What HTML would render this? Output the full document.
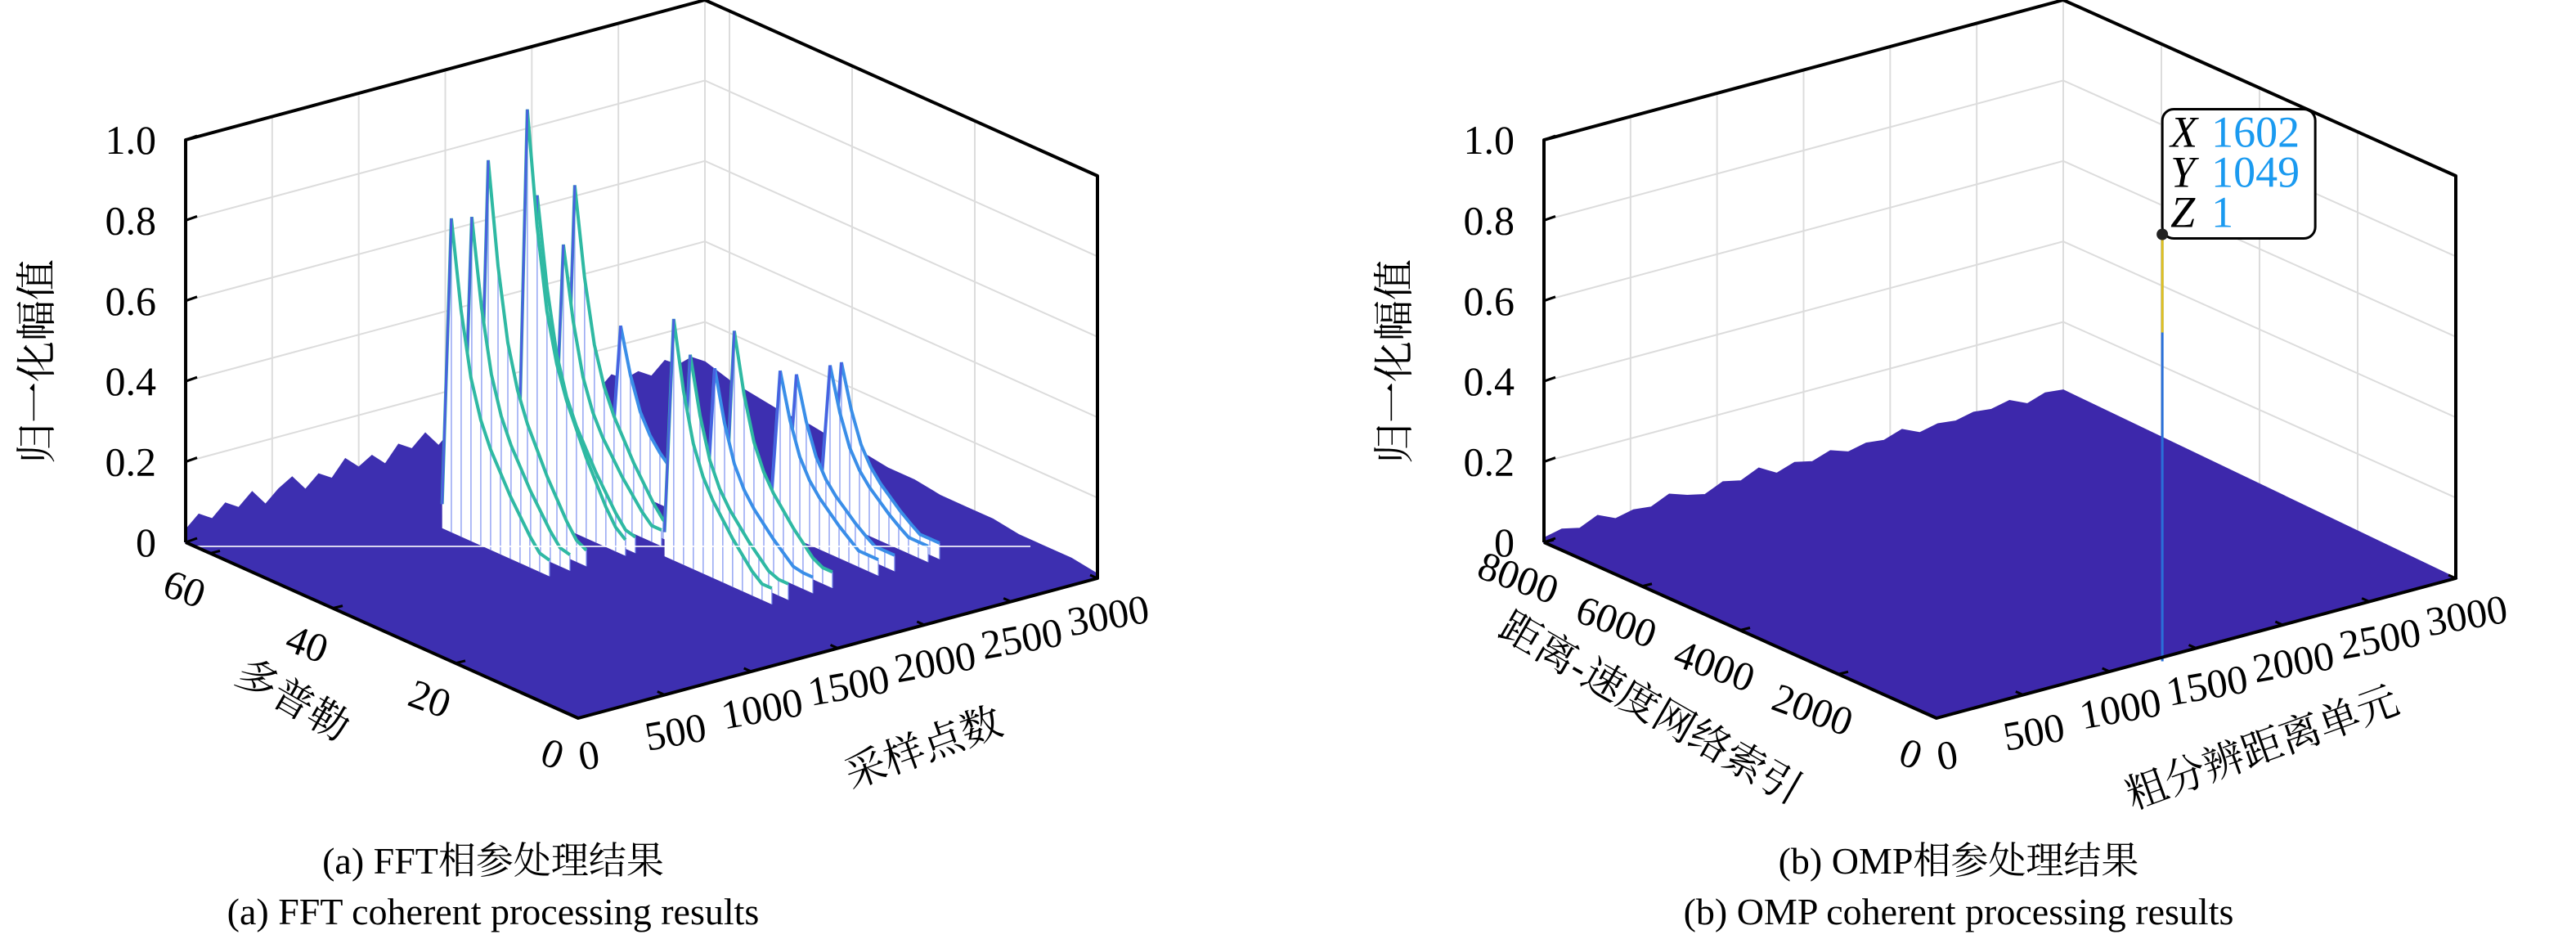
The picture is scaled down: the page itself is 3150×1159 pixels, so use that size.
<!DOCTYPE html>
<html><head><meta charset="utf-8"><style>
html,body{margin:0;padding:0;background:#fff}
svg{display:block}
text{font-family:"Liberation Serif","Noto Serif CJK SC","Noto Sans CJK SC",serif;fill:#000}
</style></head><body>
<svg id="fig" width="3150" height="1159" viewBox="0 0 3150 1159" xmlns="http://www.w3.org/2000/svg">
<g id="chartA"></g>
<g id="chartB"></g>
<text x="603" y="1068" font-size="46" text-anchor="middle">(a) FFT相参处理结果</text>
<text x="603" y="1130" font-size="46" text-anchor="middle">(a) FFT coherent processing results</text>
<text x="2395" y="1068" font-size="46" text-anchor="middle">(b) OMP相参处理结果</text>
<text x="2395" y="1130" font-size="46" text-anchor="middle">(b) OMP coherent processing results</text>
</svg>
<script>
// ---- data ----
const zTicks = [0, 0.2, 0.4, 0.6, 0.8, 1.0];
const zTickLabels = ["0", "0.2", "0.4", "0.6", "0.8", "1.0"];
const xTicksA = [0, 500, 1000, 1500, 2000, 2500, 3000];
const yTicksA = [0, 20, 40, 60];
const xTicksB = [0, 500, 1000, 1500, 2000, 2500, 3000];
const yTicksB = [0, 2000, 4000, 6000, 8000];
// FFT targets: sample index, doppler index of peak, normalized amplitude
const targetSamples = [1039, 1157, 1252, 1478, 1535, 1686, 1752, 2017, 1615, 1710, 1852, 1965, 2230, 2324, 2518, 2584];
const targetDoppler = [50, 50, 50, 50, 50, 50, 50, 50, 30, 30, 30, 30, 30, 30, 30, 30];
const targetAmps = [0.78, 0.77, 0.9, 1.0, 0.78, 0.64, 0.78, 0.4, 0.6, 0.5, 0.45, 0.53, 0.4, 0.38, 0.38, 0.38];
// relative ridge shape along doppler (offset 0 .. -N)
const ridgeProfile = [1, 0.72, 0.52, 0.4, 0.32, 0.26, 0.2, 0.15, 0.1, 0.06, 0];
// floor clutter amplitude along back edges
const noiseA = [0.03,0.06,0.04,0.07,0.05,0.08,0.04,0.07,0.09,0.05,0.08,0.06,0.1,0.07,0.09,0.06,0.1,0.08,0.11,0.07,0.1,0.09,0.12,0.08,0.11,0.09,0.12,0.1,0.13,0.09,0.12,0.1,0.13,0.11,0.12,0.1,0.13,0.11,0.12,0.1];
const noiseA2 = [0.1,0.08,0.07,0.06,0.06,0.05,0.05,0.04,0.04,0.03,0.03,0.03,0.02,0.02,0.02,0.01];
const noiseB = [0.01,0.02,0.01,0.03,0.01,0.02,0.015,0.035,0.02,0.01,0.03,0.02,0.04,0.015,0.03,0.02,0.035,0.02,0.03,0.025,0.04,0.02,0.03,0.025,0.035,0.03,0.04,0.02,0.035,0.03];
const noiseB2 = [0,0];
const ompX = [1602];
const ompY = [1049];
const ompZ = [1];

const NS = "http://www.w3.org/2000/svg";
function mk(parent, tag, attrs, txt){
  const e = document.createElementNS(NS, tag);
  for (const k in attrs) e.setAttribute(k, attrs[k]);
  if (txt !== undefined) e.textContent = txt;
  parent.appendChild(e);
  return e;
}
function makeProj(ox, xMax, yMax){
  const F = [707 + ox, 878], RX = [635, -171], LY = [-480, -215], H = 492;
  return function(s, d, z){
    return [F[0] + s / xMax * RX[0] + d / yMax * LY[0], F[1] + s / xMax * RX[1] + d / yMax * LY[1] - z * H];
  };
}
function pts(a){ return a.map(p => p[0].toFixed(1) + "," + p[1].toFixed(1)).join(" "); }

function drawBox(g, P, xMax, yMax, xTicks, yTicks){
  const grid = mk(g, "g", {stroke: "#dcdcdc", "stroke-width": 2, fill: "none"});
  
  
  zTicks.forEach(z => {
    if (z === 0) return;
    mk(grid, "polyline", {points: pts([P(0, yMax, z), P(xMax, yMax, z), P(xMax, 0, z)])});
  });
  xTicks.forEach(s => { mk(grid, "line", {x1: P(s, yMax, 0)[0], y1: P(s, yMax, 0)[1], x2: P(s, yMax, 1)[0], y2: P(s, yMax, 1)[1]}); });
  yTicks.forEach(d => { mk(grid, "line", {x1: P(xMax, d, 0)[0], y1: P(xMax, d, 0)[1], x2: P(xMax, d, 1)[0], y2: P(xMax, d, 1)[1]}); });
}
function drawAxes(g, P, xMax, yMax, xTicks, yTicks, xLabel, yLabel, xLabPos, yLabPos, zLabX){
  const ax = mk(g, "g", {stroke: "#000", "stroke-width": 4, fill: "none", "stroke-linejoin": "round"});
  
  
  mk(ax, "polyline", {points: pts([P(0, yMax, 0), P(0, yMax, 1), P(xMax, yMax, 1), P(xMax, 0, 1), P(xMax, 0, 0), P(0, 0, 0), P(0, yMax, 0)])});
  zTicks.forEach((z, i) => {
    const p = P(0, yMax, z);
    mk(ax, "line", {x1: p[0], y1: p[1], x2: p[0] + 14, y2: p[1] - 5, "stroke-width": 3});
    const t = mk(g, "text", {x: p[0] - 36, y: p[1] + 17, "font-size": 50, "text-anchor": "end"}, zTickLabels[i]);
    
    
  });
  xTicks.forEach(s => {
    const p = P(s, 0, 0);
    mk(ax, "line", {x1: p[0], y1: p[1], x2: p[0] - 9, y2: p[1] - 4, "stroke-width": 3});
    const t = mk(g, "text", {x: p[0] + 14, y: p[1] + 62, "font-size": 50, "text-anchor": "middle", transform: "rotate(-10 " + (p[0] + 14) + " " + (p[1] + 50) + ")"}, String(s));
    
    
  });
  yTicks.forEach(d => {
    const p = P(0, d, 0);
    mk(ax, "line", {x1: p[0], y1: p[1], x2: p[0] + 12, y2: p[1] - 3, "stroke-width": 3});
    const t = mk(g, "text", {x: p[0] - 32, y: p[1] + 60, "font-size": 50, "text-anchor": "middle", transform: "rotate(20 " + (p[0] - 32) + " " + (p[1] + 45) + ")"}, String(d));
    
    
  });
  const xl = mk(g, "text", {x: xLabPos[0], y: xLabPos[1], "font-size": 50, "text-anchor": "middle", transform: "rotate(-20 " + xLabPos[0] + " " + xLabPos[1] + ")"}, xLabel);
  
  
  const yl = mk(g, "text", {x: yLabPos[0], y: yLabPos[1], "font-size": 50, "text-anchor": "middle", transform: "rotate(30 " + yLabPos[0] + " " + yLabPos[1] + ")"}, yLabel);
  
  
  const zl = mk(g, "text", {x: zLabX, y: 442, "font-size": 50, "text-anchor": "middle", transform: "rotate(-90 " + zLabX + " 442)"}, "归一化幅值");
  
  
}
function drawFloor(g, P, xMax, yMax, noise, noise2, color){
  const back = [];
  const n = noise.length, m = noise2.length;
  back.push(P(0, yMax, 0));
  for (let i = 0; i < n; i++) back.push(P(xMax * i / (n - 1), yMax, noise[i]));
  for (let i = 1; i < m; i++) back.push(P(xMax, yMax * (1 - i / (m - 1)), noise2[i]));
  back.push(P(xMax, 0, 0)); back.push(P(0, 0, 0));
  const f = mk(g, "polygon", {points: pts(back), fill: color, stroke: color, "stroke-width": 2});
  
  
}

// ---- Chart A ----
(function(){
  const g = document.getElementById("chartA");
  const xMax = 3000, yMax = 64;
  const P = makeProj(0, xMax, yMax);
  drawBox(g, P, xMax, yMax, xTicksA, yTicksA);
  drawFloor(g, P, xMax, yMax, noiseA, noiseA2, "#3d2fb0");
  const order = targetSamples.map((s, i) => i).sort((a, b) => (targetSamples[b] / xMax + targetDoppler[b] / yMax) - (targetSamples[a] / xMax + targetDoppler[a] / yMax));
  order.forEach(i => {
    const s = targetSamples[i], dp = targetDoppler[i], a = targetAmps[i];
    const rg = mk(g, "g", {});
    
    
    const top = [P(s, dp + 1.5, 0.06)];
    ridgeProfile.forEach((r, k) => top.push(P(s, dp - k * 1.6, Math.max(0.04, a * r))));
    const last = dp - (ridgeProfile.length - 1) * 1.6;
    const poly = top.concat([P(s, last, 0), P(s, dp + 1.5, 0)]);
    mk(rg, "polygon", {points: pts(poly), fill: "#ffffff", stroke: "none"});
    ridgeProfile.forEach((r, k) => {
      const p1 = P(s, dp - k * 1.6, Math.max(0.04, a * r)), p0 = P(s, dp - k * 1.6, 0);
      mk(rg, "line", {x1: p1[0], y1: p1[1], x2: p0[0], y2: p0[1], stroke: "#7a8ff0", "stroke-width": 1.5, "stroke-opacity": 0.8});
    });
    mk(rg, "polyline", {points: pts(top), fill: "none", stroke: a > 0.45 ? "#2fb9a3" : "#3a8ee8", "stroke-width": 4});
    const pk = P(s, dp, a);
    mk(rg, "line", {x1: pk[0], y1: pk[1], x2: P(s, dp + 1.5, 0.06)[0], y2: P(s, dp + 1.5, 0.06)[1], stroke: "#4a5fe0", "stroke-width": 3});
  });
  mk(g, "line", {x1: 227, y1: 668, x2: 1260, y2: 668, stroke: "#ffffff", "stroke-width": 2, "stroke-opacity": 0.8});
  drawAxes(g, P, xMax, yMax, xTicksA, yTicksA, "采样点数", "多普勒", [1135, 930], [350, 870], 62);
})();

// ---- Chart B ----
(function(){
  const g = document.getElementById("chartB");
  const xMax = 3000, yMax = 8000;
  const P = makeProj(1661, xMax, yMax);
  drawBox(g, P, xMax, yMax, xTicksB, yTicksB);
  drawFloor(g, P, xMax, yMax, noiseB, noiseB2, "#3d28ab");
  ompX.forEach((xv, i) => {
    const b = P(xv, ompY[i], 0), t0 = P(xv, ompY[i], ompZ[i]);
    const t = [t0[0], t0[1] + 20];
    const sp = mk(g, "line", {x1: b[0], y1: b[1] + 50, x2: t[0], y2: t[1], stroke: "#2a6fd8", "stroke-width": 3});
    
    
    mk(g, "line", {x1: t[0], y1: t[1], x2: t[0], y2: t[1] + 120, stroke: "#e0c020", "stroke-width": 3});
    const tip = mk(g, "g", {});
    
    
    mk(tip, "rect", {x: t[0], y: t[1] - 153, width: 187, height: 158, rx: 14, fill: "#fff", stroke: "#000", "stroke-width": 3});
    mk(tip, "circle", {cx: t[0], cy: t[1], r: 7, fill: "#222"});
    const labels = ["X", "Y", "Z"], vals = [ompX[i], ompY[i], ompZ[i]];
    labels.forEach((L, k) => {
      const ty = t[1] - 107 + k * 49;
      mk(tip, "text", {x: t[0] + 10, y: ty, "font-size": 54, "font-style": "italic"}, L);
      const v = mk(tip, "text", {x: t[0] + 60, y: ty, "font-size": 54}, String(vals[k]));
      v.setAttribute("style", "fill:#1a9af0");
    });
  });
  drawAxes(g, P, xMax, yMax, xTicksB, yTicksB, "粗分辨距离单元", "距离-速度网络索引", [2772, 930], [2010, 880], 1722);
})();
</script>
</body></html>
